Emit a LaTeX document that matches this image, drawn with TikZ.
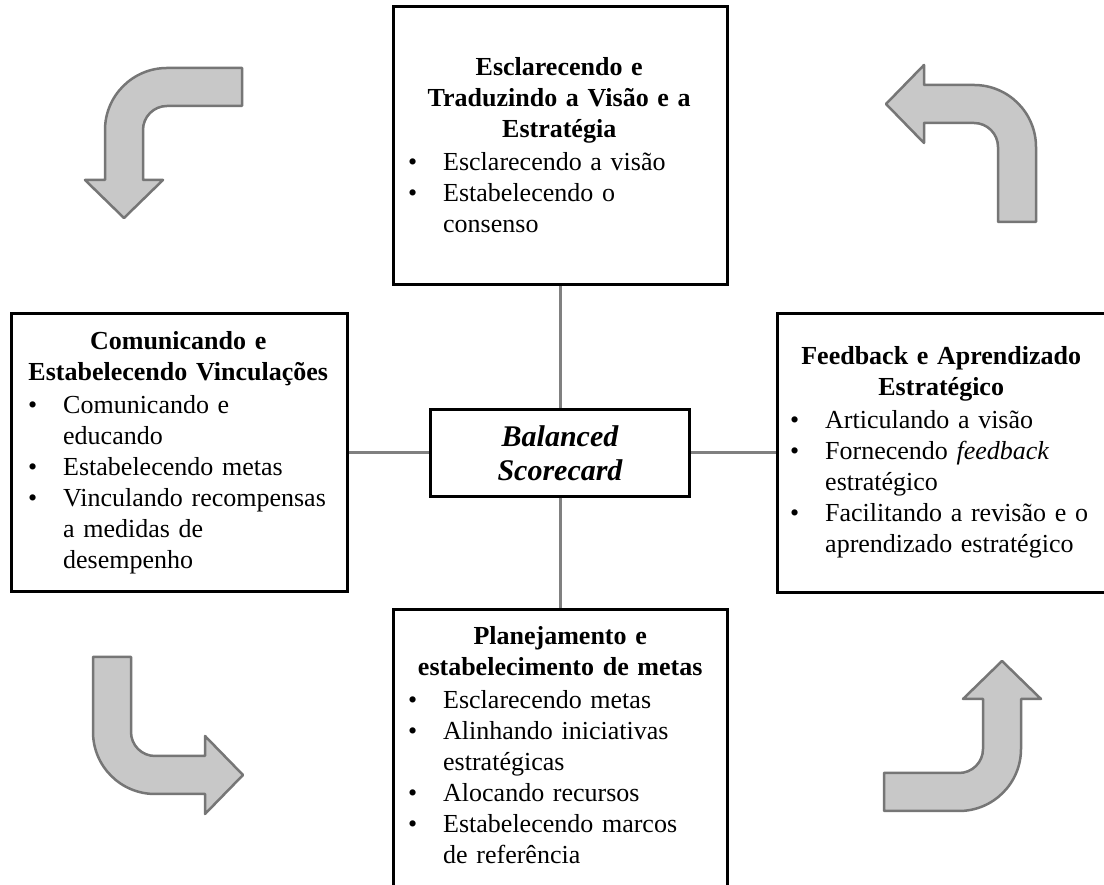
\documentclass[tikz,border=0pt]{standalone}
\usepackage{fontspec}
\setmainfont{Liberation Serif}
\definecolor{conngray}{RGB}{128,128,128}
\definecolor{arrowfill}{RGB}{200,200,200}
\definecolor{arrowline}{RGB}{118,118,118}
\newcommand\bodyfont{\fontsize{26}{31}\selectfont}
\newcommand\hubfont{\fontsize{30}{34}\selectfont\bfseries\itshape}
\newcommand\boxtitle[1]{{\centering\bfseries #1\par}\vspace{2pt}}
% bullet item with hanging indent; \\ breaks the line inside the same paragraph
\newcommand\bitem[1]{\par\noindent\hangindent=35pt\hangafter=1%
  \makebox[35pt][l]{\textbullet}{\def\\{\hfil\break}#1}\par}
\tikzset{
  panel/.style={draw=black, line width=3pt, fill=white, inner sep=0pt},
  hub/.style={panel, minimum width=259pt, minimum height=87pt, align=center, font=\hubfont},
  panelText/.style={anchor=base west, inner sep=0pt, align=left, font=\bodyfont},
  conn/.style={draw=conngray, line width=3pt},
  bentarrow/.pic={
    \draw[fill=arrowfill, draw=arrowline, line width=2.5pt, line join=round]
      (75,62) -- (0,62) arc (90:180:62) -- (-62,-50) -- (-82,-50) -- (-43,-88)
      -- (-4,-50) -- (-24,-50) -- (-24,0) arc (180:90:24) -- (75,24) -- cycle;
  }
}
\begin{document}
\begin{tikzpicture}[x=1pt, y=1pt]
\useasboundingbox (0,0) rectangle (1104,885);
\clip (0,0) rectangle (1104,885);
\fill[white] (0,0) rectangle (1104,885);

% four panels and the central hub
\node[panel, minimum width=334pt, minimum height=278pt] (vision) at (560,739) {};
\node[panel, minimum width=336pt, minimum height=278pt] (communic) at (179,432) {};
\node[panel, minimum width=338pt, minimum height=279pt] (feedback) at (946,432) {};
\node[panel, minimum width=334pt, minimum height=300pt] (planning) at (560,125) {};
\node[hub] (bsc) at (560,432) {Balanced\\Scorecard};

% connectors between hub and panels
\draw[conn] (vision.south) -- (bsc.north);
\draw[conn] (bsc.south) -- (planning.north);
\draw[conn] (communic.east) -- (bsc.west);
\draw[conn] (bsc.east) -- (feedback.west);

% panel texts
\node[panelText, text width=302pt] (visionText) at (408,809) {%
  \boxtitle{Esclarecendo e\\Traduzindo a Visão e a\\Estratégia}%
  \bitem{Esclarecendo a visão}%
  \bitem{Estabelecendo o\\consenso}};

\node[panelText, text width=300pt] (communicText) at (28,535) {%
  \boxtitle{Comunicando e\\Estabelecendo Vinculações}%
  \bitem{Comunicando e\\educando}%
  \bitem{Estabelecendo metas}%
  \bitem{Vinculando recompensas\\a medidas de\\desempenho}};

\node[panelText, text width=302pt] (feedbackText) at (790,520) {%
  \boxtitle{Feedback e Aprendizado\\Estratégico}%
  \bitem{Articulando a visão}%
  \bitem{Fornecendo \textit{feedback}\\estratégico}%
  \bitem{Facilitando a revisão e o\\aprendizado estratégico}};

\node[panelText, text width=304pt] (planningText) at (408,240) {%
  \boxtitle{Planejamento e\\estabelecimento de metas}%
  \bitem{Esclarecendo metas}%
  \bitem{Alinhando iniciativas\\estratégicas}%
  \bitem{Alocando recursos}%
  \bitem{Estabelecendo marcos\\de referência}};

% bent cycle arrows in the corners
\pic at (167,755) {bentarrow};
\pic[rotate=-90] at (974,738) {bentarrow};
\pic[rotate=90] at (155,153) {bentarrow};
\pic[rotate=180] at (959,136) {bentarrow};
\end{tikzpicture}
\end{document}
